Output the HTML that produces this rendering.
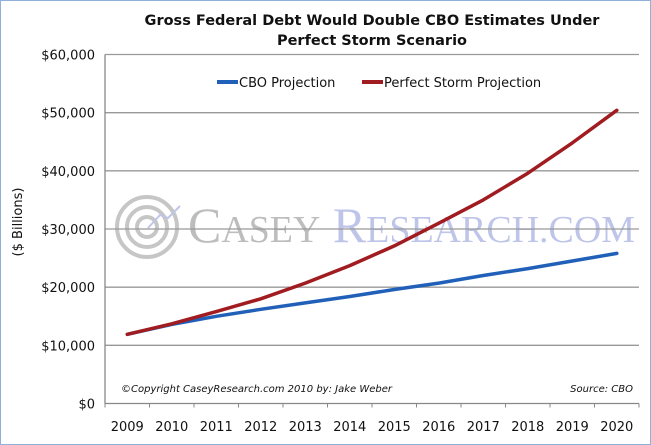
<!DOCTYPE html>
<html><head><meta charset="utf-8"><style>
body{margin:0;background:#fff;}
svg{display:block;font-family:"DejaVu Sans","Liberation Sans",sans-serif;}
</style></head><body>
<svg width="651" height="445" viewBox="0 0 651 445">
<rect x="0.5" y="0.5" width="650" height="444" fill="#fff" stroke="#8fb0d8"/>
<text x="372" y="25" text-anchor="middle" font-weight="bold" font-size="14.5" fill="#111">Gross Federal Debt Would Double CBO Estimates Under</text>
<text x="372" y="45" text-anchor="middle" font-weight="bold" font-size="14.5" fill="#111">Perfect Storm Scenario</text>
<g id="watermark" opacity="0.55">
<circle cx="147" cy="227" r="30" fill="none" stroke="#999" stroke-width="4"/>
<circle cx="147" cy="227" r="20" fill="none" stroke="#999" stroke-width="4"/>
<circle cx="147" cy="227" r="10" fill="none" stroke="#999" stroke-width="4"/>
<polyline points="148,228 160,215 168,218 180,206" fill="none" stroke="#8a96d8" stroke-width="2"/>
<text x="188" y="242" font-family="Liberation Serif,serif" font-size="50" fill="#888" textLength="447" lengthAdjust="spacingAndGlyphs">C<tspan font-size="38">ASEY</tspan> <tspan fill="#8a96d8" font-size="50">R</tspan><tspan fill="#8a96d8" font-size="38">ESEARCH.COM</tspan></text>
</g>
<g id="grid"></g>
<g id="yticks"></g>
<g id="xticks"></g>
<g id="series"></g>
<text transform="translate(22,222) rotate(-90)" text-anchor="middle" font-size="13" fill="#111">($ Billions)</text>
<g>
<line x1="217" y1="82" x2="238" y2="82" stroke="#2060b8" stroke-width="4"/>
<text x="239" y="87" font-size="13" fill="#111">CBO Projection</text>
<line x1="362" y1="82" x2="383" y2="82" stroke="#a01c20" stroke-width="4"/>
<text x="384" y="87" font-size="13" fill="#111">Perfect Storm Projection</text>
</g>
<text x="121" y="392" font-size="10" font-style="italic" fill="#111">©Copyright CaseyResearch.com 2010 by: Jake Weber</text>
<text x="633" y="392" text-anchor="end" font-size="10" font-style="italic" fill="#111">Source: CBO</text>
</svg>
<script>
const years=["2009","2010","2011","2012","2013","2014","2015","2016","2017","2018","2019","2020"];
const cboValues=[11900,13600,15000,16200,17300,18400,19600,20700,22000,23200,24500,25800];
const stormValues=[11900,13700,15800,18000,20700,23700,27100,31000,35000,39600,44800,50400];
const yTickValues=[0,10000,20000,30000,40000,50000,60000];
const yTickLabels=["$0","$10,000","$20,000","$30,000","$40,000","$50,000","$60,000"];
const NS="http://www.w3.org/2000/svg";
const L=105,R=639,T=54.5,B=403.5;
const bw=(R-L)/years.length;
const x=i=>L+bw*(i+0.5);
const y=v=>B-(v/60000)*(B-T);
function mk(tag,attrs,parent){const e=document.createElementNS(NS,tag);for(const k in attrs)e.setAttribute(k,attrs[k]);parent.appendChild(e);return e;}
const grid=document.getElementById('grid'),yt=document.getElementById('yticks'),xt=document.getElementById('xticks'),sr=document.getElementById('series');
yTickValues.forEach((v,i)=>{
  if(v>0){const g=mk('line',{x1:L,x2:R,y1:y(v),y2:y(v),stroke:'#999','stroke-width':1.3},grid);
  
  }
  const t=mk('text',{x:L-10,y:y(v)+5,'text-anchor':'end','font-size':13,fill:'#111'},yt);
  t.textContent=yTickLabels[i];
  
  
});
const ax=mk('line',{x1:L,x2:L,y1:T,y2:B,stroke:'#888','stroke-width':1.3},yt);


const bx=mk('line',{x1:L,x2:R,y1:B,y2:B,stroke:'#888','stroke-width':1.3},xt);


for(let i=0;i<=years.length;i++){const tk=mk('line',{x1:L+bw*i,x2:L+bw*i,y1:B,y2:B+4,stroke:'#888'},xt);

}
years.forEach((yr,i)=>{const t=mk('text',{x:x(i),y:431,'text-anchor':'middle','font-size':13,fill:'#111'},xt);
t.textContent=yr;

});
function line(vals,color,name){
  const p=vals.map((v,i)=>x(i).toFixed(1)+','+y(v).toFixed(1)).join(' ');
  const pl=mk('polyline',{points:p,fill:'none',stroke:color,'stroke-width':3.5,'stroke-linejoin':'round','stroke-linecap':'round'},sr);
  
  
}
line(cboValues,'#2060b8','cbo-projection-line');
line(stormValues,'#a01c20','perfect-storm-line');
</script>
</body></html>
